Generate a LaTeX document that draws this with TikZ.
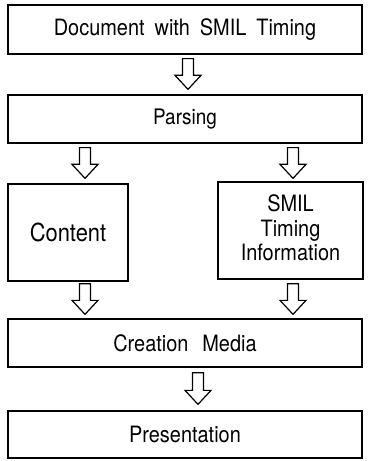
\documentclass[tikz,border=0pt]{standalone}
\usepackage{fontspec}
\usepackage{graphicx}
\setmainfont{TeX Gyre Heros}
\usetikzlibrary{calc}

% slightly tall lettering
\newcommand\tall[1]{\scalebox{1}[1.13]{#1}}

\tikzset{
  box/.style={draw, line width=1.3bp, inner sep=0pt, align=center,
              font=\fontsize{20}{25}\selectfont},
  blk/.style={draw, line width=1.2bp, fill=white, line join=miter},
}

% hollow block arrow pointing down from #1 to #2
\newcommand\blockarrow[2]{%
  \draw[blk] let \p1=(#1), \p2=(#2) in
    (\x1-5.5bp,\y1) -- (\x1+5.5bp,\y1) -- (\x1+5.5bp,\y2+14bp)
    -- (\x1+13bp,\y2+14bp) -- (\x1,\y2) -- (\x1-13bp,\y2+14bp)
    -- (\x1-5.5bp,\y2+14bp) -- cycle;}

\begin{document}
\begin{tikzpicture}[x=1bp, y=-1bp]
\useasboundingbox (0,0) rectangle (367,461);

\node[box, minimum width=354bp, minimum height=49bp] (doc) at (185,29.5)
  {\tall{Document\hspace{0.5em}with\hspace{0.5em}SMIL\hspace{0.5em}Timing}};
\node[box, minimum width=354bp, minimum height=48bp,
      font=\fontsize{19}{23}\selectfont] (parse) at (185,119) {\tall{Parsing}};
\node[box, minimum width=120bp, minimum height=97bp,
      font=\fontsize{22}{26}\selectfont] (content) at (68,232.5) {\tall{Content}};
\node[box, minimum width=145bp, minimum height=97bp] (smil) at (290.5,230.5)
  {\tall{\begin{tabular}{@{}c@{}}SMIL\\[-3pt]Timing\\[-3pt]Information\end{tabular}}};
\node[box, minimum width=354bp, minimum height=48bp] (create) at (185,343)
  {\tall{Creation\hspace{0.7em}Media}};
\node[box, minimum width=354bp, minimum height=47bp] (pres) at (185,434.5)
  {\tall{Presentation}};

% arrow end points
\coordinate (a1s) at ([xshift=3bp, yshift=-4bp]doc.south);
\coordinate (a1e) at ([xshift=3bp, yshift=5bp]parse.north);
\coordinate (a2s) at ([yshift=-4bp]parse.south -| 85,0);
\coordinate (a2e) at ([yshift=5bp]content.north -| 85,0);
\coordinate (a3s) at ([yshift=-4bp]parse.south -| 293,0);
\coordinate (a3e) at ([yshift=3bp]smil.north -| 293,0);
\coordinate (a4s) at ([yshift=-2bp]content.south -| 85,0);
\coordinate (a4e) at ([yshift=4bp]create.north -| 85,0);
\coordinate (a5s) at ([yshift=-4bp]smil.south -| 293,0);
\coordinate (a5e) at ([yshift=4bp]create.north -| 293,0);
\coordinate (a6s) at ([yshift=-5bp]create.south -| 198,0);
\coordinate (a6e) at ([yshift=6bp]pres.north -| 198,0);

\blockarrow{a1s}{a1e}
\blockarrow{a2s}{a2e}
\blockarrow{a3s}{a3e}
\blockarrow{a4s}{a4e}
\blockarrow{a5s}{a5e}
\blockarrow{a6s}{a6e}
\end{tikzpicture}
\end{document}
